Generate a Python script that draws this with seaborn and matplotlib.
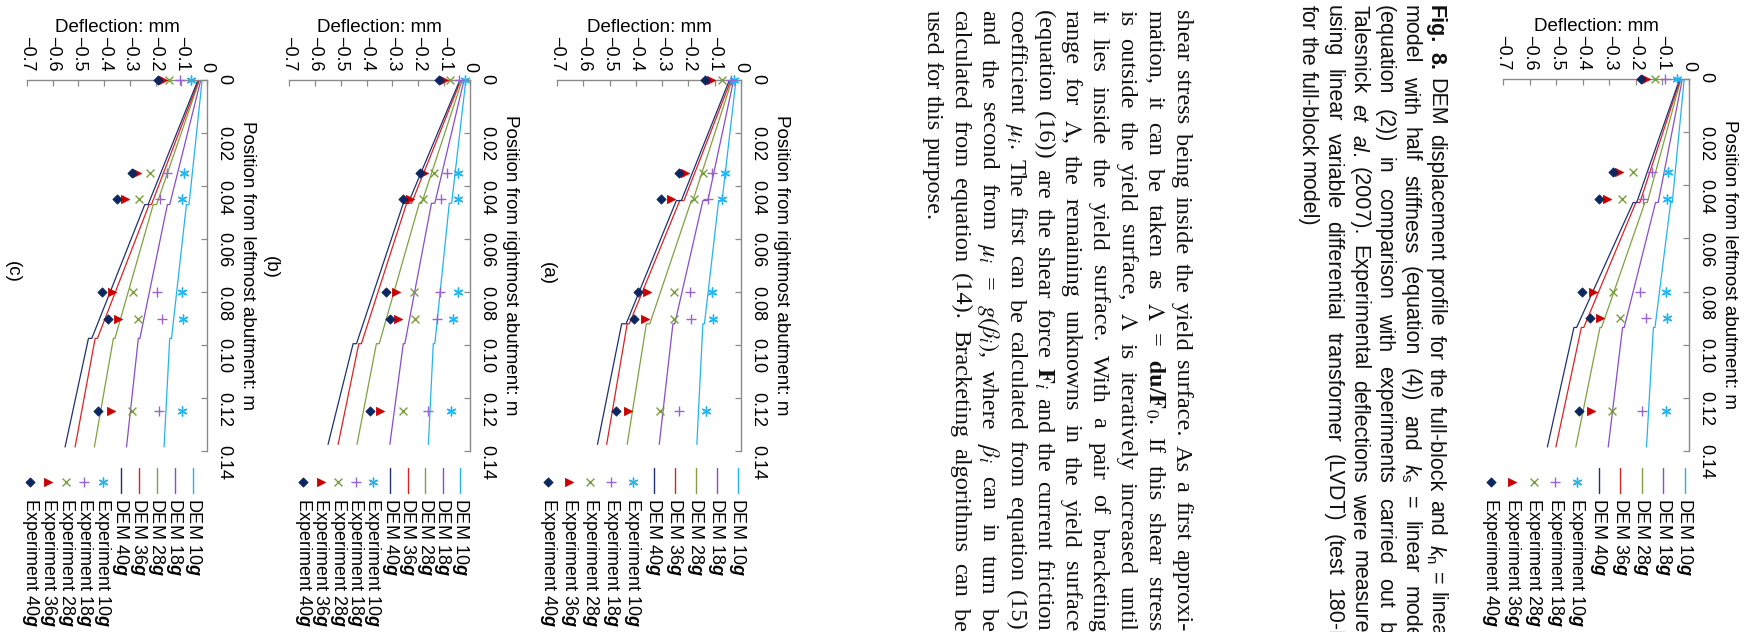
import numpy as np
import pandas as pd
import matplotlib
matplotlib.use("Agg")
import matplotlib.pyplot as plt
import seaborn as sns

# ------------------------------------------------------------------ data
exp_pos = [0.0, 0.035, 0.045, 0.08, 0.09, 0.125]

# full-block model (Fig. 8 main)
top_dem_pos = [0.0, 0.0465, 0.0465, 0.0935, 0.0935, 0.1385]
top_dem_10 = [-0.018, -0.063, -0.069, -0.128, -0.134, -0.160]
top_dem_18 = [-0.025, -0.116, -0.126, -0.244, -0.250, -0.304]
top_dem_28 = [-0.030, -0.157, -0.166, -0.329, -0.335, -0.426]
top_dem_36 = [-0.032, -0.185, -0.200, -0.396, -0.405, -0.501]
top_dem_40 = [-0.035, -0.197, -0.210, -0.423, -0.433, -0.533]
top_exp_10 = [-0.046, -0.078, -0.084, -0.088, -0.082, -0.088]
top_exp_18 = [-0.090, -0.141, -0.175, -0.185, -0.163, -0.176]
top_exp_28 = [-0.128, -0.210, -0.254, -0.285, -0.260, -0.289]
top_exp_36 = [-0.160, -0.263, -0.310, -0.363, -0.335, -0.367]
top_exp_40 = [-0.182, -0.285, -0.339, -0.402, -0.373, -0.413]

# panel (a)
a_dem_pos = [0.0, 0.0455, 0.0455, 0.092, 0.092, 0.1375]
a_dem_10 = [-0.019, -0.072, -0.085, -0.139, -0.145, -0.168]
a_dem_18 = [-0.028, -0.126, -0.145, -0.252, -0.259, -0.311]
a_dem_28 = [-0.034, -0.183, -0.189, -0.347, -0.360, -0.433]
a_dem_36 = [-0.038, -0.217, -0.233, -0.425, -0.433, -0.511]
a_dem_40 = [-0.044, -0.227, -0.246, -0.437, -0.454, -0.546]
a_exp_10 = [-0.025, -0.062, -0.072, -0.111, -0.107, -0.132]
a_exp_18 = [-0.038, -0.110, -0.126, -0.193, -0.189, -0.236]
a_exp_28 = [-0.072, -0.145, -0.180, -0.256, -0.256, -0.309]
a_exp_36 = [-0.116, -0.212, -0.267, -0.359, -0.366, -0.431]
a_exp_40 = [-0.136, -0.236, -0.303, -0.393, -0.406, -0.475]

# panel (b)
b_dem_pos = [0.0, 0.0465, 0.0465, 0.0995, 0.0995, 0.1375]
b_dem_10 = [-0.016, -0.071, -0.080, -0.136, -0.142, -0.161]
b_dem_18 = [-0.023, -0.136, -0.149, -0.252, -0.258, -0.310]
b_dem_28 = [-0.030, -0.187, -0.196, -0.351, -0.362, -0.437]
b_dem_36 = [-0.035, -0.226, -0.245, -0.420, -0.430, -0.510]
b_dem_40 = [-0.039, -0.239, -0.258, -0.439, -0.452, -0.549]
b_exp_10 = [-0.019, -0.045, -0.045, -0.045, -0.065, -0.074]
b_exp_18 = [-0.041, -0.090, -0.114, -0.116, -0.129, -0.164]
b_exp_28 = [-0.078, -0.140, -0.181, -0.217, -0.213, -0.261]
b_exp_36 = [-0.099, -0.177, -0.233, -0.287, -0.280, -0.349]
b_exp_40 = [-0.120, -0.194, -0.258, -0.323, -0.310, -0.388]

# panel (c)
c_dem_pos = [0.0, 0.047, 0.047, 0.0975, 0.0975, 0.1385]
c_dem_10 = [-0.019, -0.070, -0.080, -0.138, -0.145, -0.167]
c_dem_18 = [-0.024, -0.145, -0.154, -0.261, -0.267, -0.313]
c_dem_28 = [-0.029, -0.196, -0.209, -0.358, -0.364, -0.438]
c_dem_36 = [-0.031, -0.216, -0.225, -0.426, -0.435, -0.513]
c_dem_40 = [-0.035, -0.229, -0.242, -0.448, -0.461, -0.552]
c_exp_10 = [-0.061, -0.090, -0.099, -0.099, -0.093, -0.099]
c_exp_18 = [-0.106, -0.154, -0.183, -0.194, -0.174, -0.186]
c_exp_28 = [-0.147, -0.220, -0.264, -0.289, -0.267, -0.291]
c_exp_36 = [-0.173, -0.274, -0.319, -0.368, -0.345, -0.375]
c_exp_40 = [-0.190, -0.293, -0.349, -0.407, -0.384, -0.425]

series_keys = ["10", "18", "28", "36", "40"]
legend_labels = [r"DEM 10$\mathbf{g}$", r"DEM 18$\mathbf{g}$", r"DEM 28$\mathbf{g}$",
                 r"DEM 36$\mathbf{g}$", r"DEM 40$\mathbf{g}$",
                 r"Experiment 10$\mathbf{g}$", r"Experiment 18$\mathbf{g}$",
                 r"Experiment 28$\mathbf{g}$", r"Experiment 36$\mathbf{g}$",
                 r"Experiment 40$\mathbf{g}$"]

defl_ticks = [-0.7, -0.6, -0.5, -0.4, -0.3, -0.2, -0.1, 0.0]
defl_tick_labels = ["\u22120.7", "\u22120.6", "\u22120.5", "\u22120.4", "\u22120.3",
                    "\u22120.2", "\u22120.1", "0"]
pos_ticks = [0.0, 0.02, 0.04, 0.06, 0.08, 0.10, 0.12, 0.14]
pos_tick_labels = ["0", "0.02", "0.04", "0.06", "0.08", "0.10", "0.12", "0.14"]

caption_lines = [
    r"Fig. 8. DEM displacement profile for the full-block and $k_\mathrm{n}$ = linear",
    r"model with half stiffness (equation (4)) and $k_\mathrm{s}$ = linear model",
    r"(equation (2)) in comparison with experiments carried out by",
    r"Talesnick $\mathit{et}$ $\mathit{al.}$ (2007). Experimental deflections were measured",
    r"using linear variable differential transformer (LVDT) (test 180-E",
    r"for the full-block model)",
]
paragraph_lines = [
    r"shear stress being inside the yield surface. As a first approxi-",
    r"mation, it can be taken as $\Lambda$ = $\mathbf{du}/\mathbf{F}_0$. If this shear stress",
    r"is outside the yield surface, $\Lambda$ is iteratively increased until",
    r"it lies inside the yield surface. With a pair of bracketing",
    r"range for $\Lambda$, the remaining unknowns in the yield surface",
    r"(equation (16)) are the shear force $\mathbf{F}_i$ and the current friction",
    r"coefficient $\mu_i$. The first can be calculated from equation (15)",
    r"and the second from $\mu_i$ = $g(\beta_i)$, where $\beta_i$ can in turn be",
    r"calculated from equation (14). Bracketing algorithms can be",
    r"used for this purpose.",
]

# ------------------------------------------------------------------ style
sns.set_theme(style="white", rc={"text.color": "black", "axes.labelcolor": "black",
                                 "xtick.color": "black", "ytick.color": "black"})
plt.rcParams["font.family"] = ["Liberation Sans", "DejaVu Sans"]
plt.rcParams["mathtext.fontset"] = "custom"
plt.rcParams["mathtext.rm"] = "Liberation Sans"
plt.rcParams["mathtext.it"] = "Liberation Sans:italic"
plt.rcParams["mathtext.bf"] = "Liberation Sans:italic:bold"
plt.rcParams["mathtext.sf"] = "Liberation Sans:bold"

dem_colors = {"10": "#23B4EF", "18": "#8A4CC8", "28": "#7FA23E", "36": "#DA2424", "40": "#1F3170"}
exp_colors = {"10": "#1FB6F2", "18": "#9B62D2", "28": "#7A9E3C", "36": "#CC0000", "40": "#0B2660"}
exp_markers = {"10": (6, 2, 0), "18": "+", "28": "x", "36": ">", "40": "D"}
exp_sizes = {"10": 40, "18": 42, "28": 32, "36": 34, "40": 22}

W, H = 1754, 632
fig = plt.figure(figsize=(W / 100, H / 100), dpi=100)
fig.patch.set_facecolor("white")


def px_axes(left, right, top, bottom):
    return fig.add_axes([left / W, (H - bottom) / H, (right - left) / W, (bottom - top) / H])


page = px_axes(0, W, 0, H)
page.set_xlim(0, W)
page.set_ylim(H, 0)
page.axis("off")
renderer = fig.canvas.get_renderer()


def put_line(line, x_base, y0, length, justify, size, family, math_ff, bold_first=0):
    words = line.split(" ")
    texts = []
    for k, w in enumerate(words):
        t = page.text(x_base, y0, w, rotation=270, rotation_mode="anchor", ha="left",
                      va="baseline", fontsize=size, family=family, math_fontfamily=math_ff,
                      fontweight="bold" if k < bold_first else "normal", color="#111111")
        texts.append(t)
    lens = [t.get_window_extent(renderer).height for t in texts]
    space = size * 100 / 72 * 0.25
    if justify and len(words) > 1:
        gap = max((length - sum(lens)) / (len(words) - 1), space * 0.75)
    else:
        gap = space
    y = y0
    for t, ln in zip(texts, lens):
        t.set_position((x_base, y))
        y += ln + gap


# caption (sans) and paragraph (serif), rotated page
for i, line in enumerate(caption_lines):
    put_line(line, 1430 - 25.6 * i, 5, 640, i < len(caption_lines) - 1, 15.5,
             ["Liberation Sans"], "custom", bold_first=2 if i == 0 else 0)
for i, line in enumerate(paragraph_lines):
    put_line(line, 1176 - 27.7 * i, 10, 621, i < len(paragraph_lines) - 1, 17.6,
             ["Liberation Serif"], "stix")


def draw_chart(box, dem_pos, dems, exps, pos_label):
    ax = px_axes(*box)
    ax.patch.set_alpha(0)
    for k, vals in zip(series_keys, dems):
        df = pd.DataFrame({"defl": vals, "pos": dem_pos})
        sns.lineplot(data=df, x="defl", y="pos", sort=False, estimator=None,
                     color=dem_colors[k], linewidth=0.9, ax=ax, legend=False)
    for k, vals in zip(series_keys, exps):
        m = exp_markers[k]
        filled = m in (">", "D")
        sns.scatterplot(x=vals, y=exp_pos, marker=m, s=exp_sizes[k], color=exp_colors[k],
                        edgecolor=exp_colors[k] if filled else None,
                        linewidth=0.6 if filled else 1.0, ax=ax, legend=False,
                        clip_on=False, zorder=5)
    ax.set_xlim(-0.7, 0)
    ax.set_ylim(0.14, 0)
    for s in ("left", "bottom"):
        ax.spines[s].set_visible(False)
    for s in ("top", "right"):
        ax.spines[s].set_visible(True)
        ax.spines[s].set_color("#8a8a8a")
        ax.spines[s].set_linewidth(1.0)
    ax.xaxis.tick_top()
    ax.yaxis.tick_right()
    ax.set_xticks(defl_ticks)
    ax.set_xticklabels(defl_tick_labels)
    ax.set_yticks(pos_ticks)
    ax.set_yticklabels(pos_tick_labels)
    ax.tick_params(axis="x", direction="in", length=4, width=0.9, color="#8a8a8a",
                   pad=6, labelsize=13, labelrotation=270, top=True, bottom=False)
    ax.tick_params(axis="y", direction="in", length=4, width=0.9, color="#8a8a8a",
                   pad=6, labelsize=13, labelrotation=270, right=True, left=False)
    ax.xaxis.set_label_position("top")
    ax.set_xlabel("Deflection: mm", fontsize=13.5, labelpad=3)
    ax.yaxis.set_label_position("right")
    ax.set_ylabel(pos_label, fontsize=13.5, rotation=270, va="bottom", labelpad=5)
    ax.grid(False)
    return ax


def draw_legend(x_right, step):
    n = len(legend_labels)
    lax = px_axes(x_right - (n - 1) * step - step / 2, x_right + step / 2, 462, H)
    lax.set_xlim(n - 0.5, -0.5)
    lax.set_ylim(H - 462, 0)
    lax.axis("off")
    for i, k in enumerate(series_keys):
        lax.plot([i, i], [6, 31], color=dem_colors[k], lw=1.0)
    for j, k in enumerate(series_keys):
        m = exp_markers[k]
        filled = m in (">", "D")
        lax.scatter([5 + j], [20], marker=m, s=exp_sizes[k], color=exp_colors[k],
                    edgecolor=exp_colors[k] if filled else None,
                    linewidth=0.6 if filled else 1.0)
    for i, lab in enumerate(legend_labels):
        lax.text(i, 36, lab, rotation=270, ha="center", va="top", fontsize=13)


charts = [
    ((1503, 1689, 79, 451), top_dem_pos,
     [top_dem_10, top_dem_18, top_dem_28, top_dem_36, top_dem_40],
     [top_exp_10, top_exp_18, top_exp_28, top_exp_36, top_exp_40],
     "Position from leftmost abutment: m", (1685, 21.6), None),
    ((557, 741, 80, 451), a_dem_pos,
     [a_dem_10, a_dem_18, a_dem_28, a_dem_36, a_dem_40],
     [a_exp_10, a_exp_18, a_exp_28, a_exp_36, a_exp_40],
     "Position from rightmost abutment: m", (738, 21.1), ("(a)", 547, 273)),
    ((289, 470, 80, 451), b_dem_pos,
     [b_dem_10, b_dem_18, b_dem_28, b_dem_36, b_dem_40],
     [b_exp_10, b_exp_18, b_exp_28, b_exp_36, b_exp_40],
     "Position from rightmost abutment: m", (460, 17.4), ("(b)", 270, 267)),
    ((27, 207, 80, 451), c_dem_pos,
     [c_dem_10, c_dem_18, c_dem_28, c_dem_36, c_dem_40],
     [c_exp_10, c_exp_18, c_exp_28, c_exp_36, c_exp_40],
     "Position from leftmost abutment: m", (193, 18.1), ("(c)", 12, 272)),
]

for box, dpos, dems, exps, plabel, leg, tag in charts:
    draw_chart(box, dpos, dems, exps, plabel)
    draw_legend(*leg)
    if tag is not None:
        page.text(tag[1], tag[2], tag[0], rotation=270, ha="center", va="center", fontsize=13.5)

fig.savefig("out.png", dpi=100, facecolor="white")
